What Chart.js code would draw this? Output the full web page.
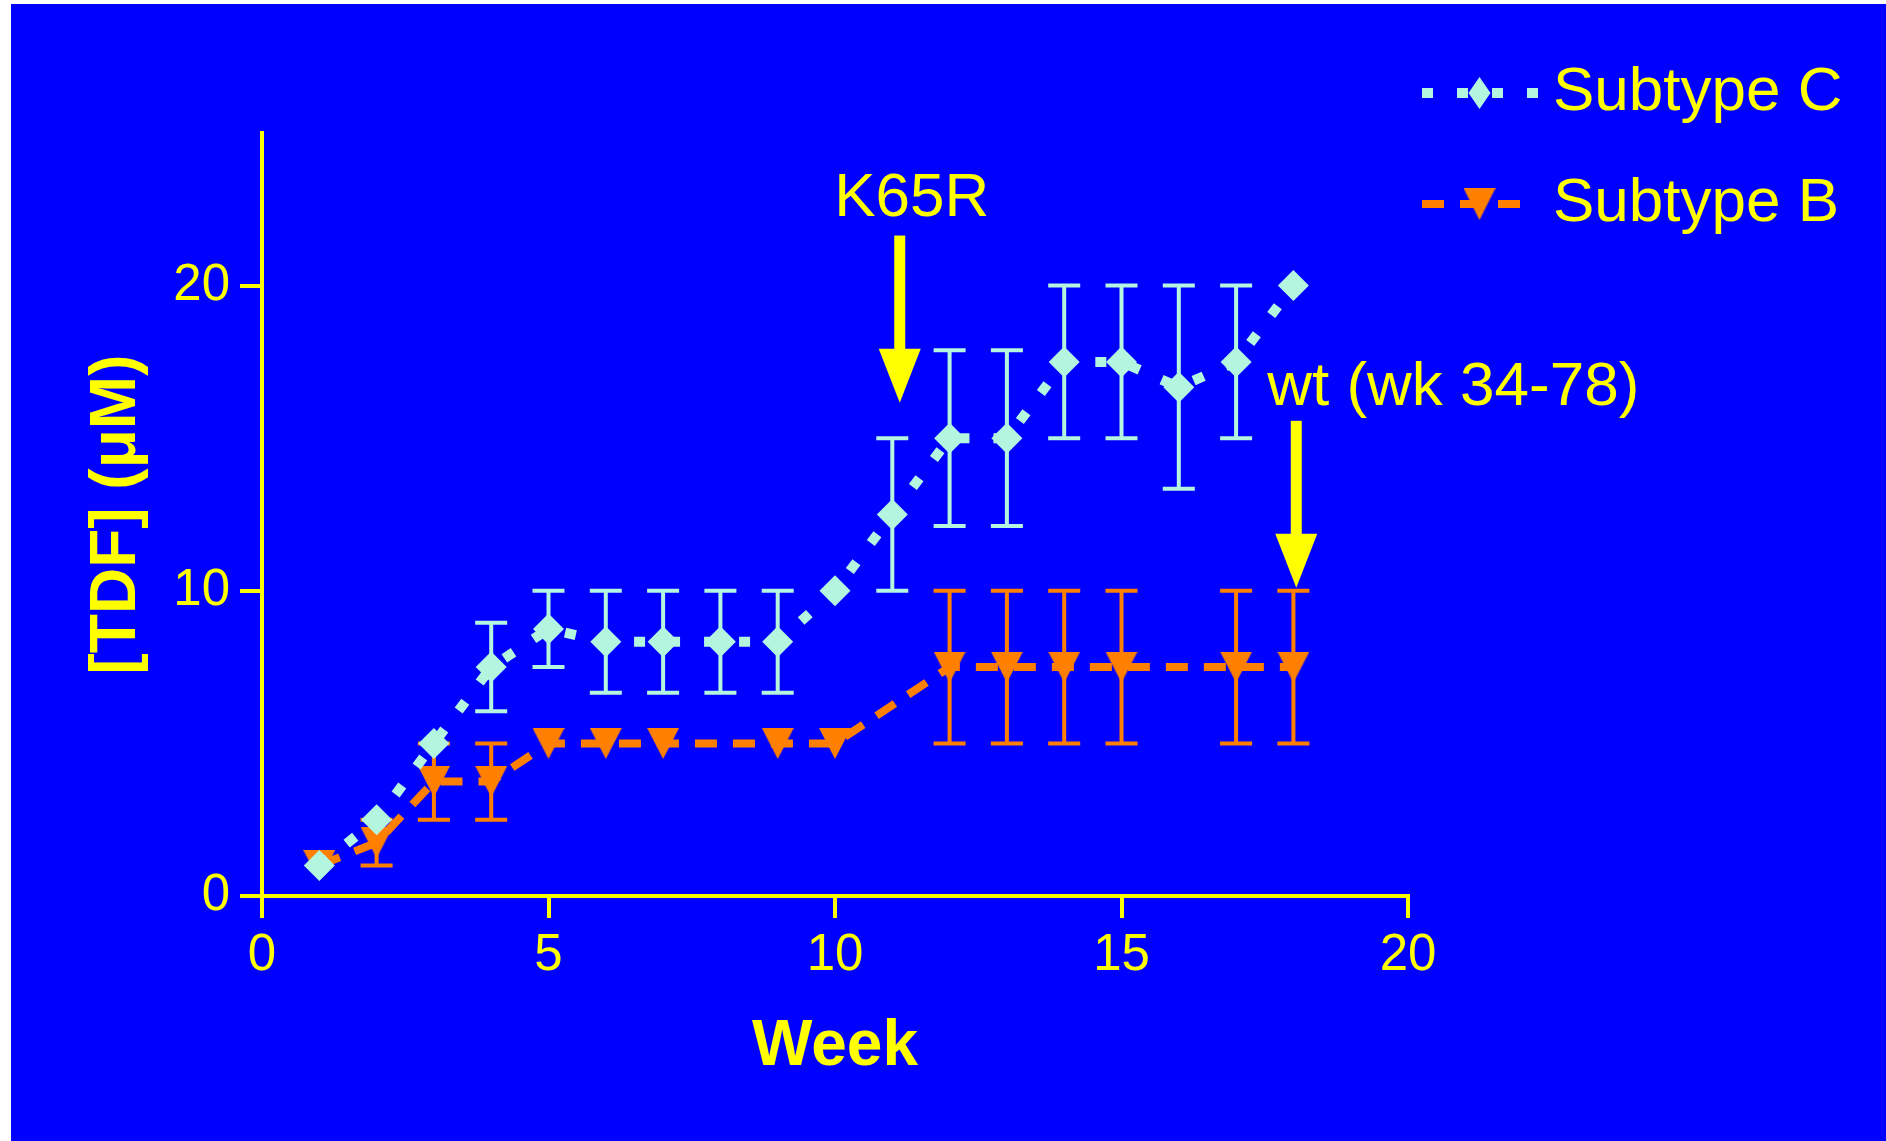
<!DOCTYPE html>
<html><head><meta charset="utf-8">
<script src="https://cdn.jsdelivr.net/npm/chart.js@4.4.1/dist/chart.umd.min.js"></script>
<style>html,body{margin:0;padding:0;background:#fff;overflow:hidden}canvas{display:block}</style>
</head><body>
<canvas id="c" width="1886" height="1141"></canvas>
<script>
// ---- data ----
const weeksC  = [1, 2, 3, 4, 5, 6, 7, 8, 9, 10, 11, 12, 13, 14, 15, 16, 17, 18];
const valuesC = [1, 2.5, 5, 7.5, 8.75, 8.33, 8.33, 8.33, 8.33, 10, 12.5, 15, 15, 17.5, 17.5, 16.67, 17.5, 20];
const errorsC = [0, 0, 0, 1.45, 1.25, 1.67, 1.67, 1.67, 1.67, 0, 2.5, 2.88, 2.88, 2.5, 2.5, 3.33, 2.5, 0];
const weeksB  = [1, 2, 3, 4, 5, 6, 7, 9, 10, 12, 13, 14, 15, 17, 18];
const valuesB = [1, 1.75, 3.75, 3.75, 5, 5, 5, 5, 5, 7.5, 7.5, 7.5, 7.5, 7.5, 7.5];
const errorsB = [0, 0.75, 1.25, 1.25, 0, 0, 0, 0, 0, 2.5, 2.5, 2.5, 2.5, 2.5, 2.5];
const xTicks = [0, 5, 10, 15, 20];
const yTicks = [0, 10, 20];
const seriesNames = ['Subtype C', 'Subtype B'];
const xTitle = 'Week';
const yTitle = '[TDF] (\u03BCM)';
const annotationLabels = ['K65R', 'wt (wk 34-78)'];
const annotationX      = [11.13, 18.05];   // arrow position (week)
const annotationTop    = [21.64, 15.57];   // arrow shaft top (µM)
const annotationTip    = [16.16, 10.1];    // arrow tip (µM)
const annotationTextX  = [11.34, 20.79];
const annotationTextY  = [22.85, 16.66];

// ---- styles ----
const BLUE = '#0000FF', YELLOW = '#FFFF00', AQUA = '#B3F5DE', ORANGE = '#FF8000';
const FONT = '"Liberation Sans", Arial, Helvetica, sans-serif';

function triangleDown(w, h, color) {
  const c = document.createElement('canvas');
  c.width = w; c.height = h;
  const g = c.getContext('2d');
  g.fillStyle = color;
  g.beginPath(); g.moveTo(0, 0); g.lineTo(w, 0); g.lineTo(w / 2, h); g.closePath(); g.fill();
  return c;
}
const triB = triangleDown(32, 31, ORANGE);

const bgPlugin = {
  id: 'bg',
  beforeDraw(chart) {
    const ctx = chart.ctx;
    ctx.save();
    ctx.fillStyle = '#FFFFFF';
    ctx.fillRect(0, 0, chart.width, chart.height);
    ctx.fillStyle = BLUE;
    ctx.fillRect(11, 4, chart.width - 11, chart.height - 4);
    ctx.restore();
  }
};

const errorBarPlugin = {
  id: 'errorBars',
  beforeDatasetDraw(chart, args) {
    const ds = chart.data.datasets[args.index];
    const errs = ds.errorBars;
    if (!errs) return;
    const xs = chart.scales.x, ys = chart.scales.y, ctx = chart.ctx;
    ctx.save();
    ctx.strokeStyle = ds.borderColor;
    ctx.lineWidth = 4;
    ctx.lineCap = 'butt';
    ds.data.forEach((p, i) => {
      const e = errs[i];
      if (!e) return;
      const px = xs.getPixelForValue(p.x);
      const top = ys.getPixelForValue(p.y + e);
      const bot = ys.getPixelForValue(p.y - e);
      ctx.beginPath();
      ctx.moveTo(px, top); ctx.lineTo(px, bot);
      ctx.moveTo(px - 16, top); ctx.lineTo(px + 16, top);
      ctx.moveTo(px - 16, bot); ctx.lineTo(px + 16, bot);
      ctx.stroke();
    });
    ctx.restore();
  }
};

const annotationPlugin = {
  id: 'annotations',
  afterDraw(chart) {
    const xs = chart.scales.x, ys = chart.scales.y, ctx = chart.ctx;
    ctx.save();
    ctx.fillStyle = YELLOW;
    annotationLabels.forEach((lab, i) => {
      const px = xs.getPixelForValue(annotationX[i]);
      const top = ys.getPixelForValue(annotationTop[i]);
      const tip = ys.getPixelForValue(annotationTip[i]);
      const headLen = 54, shaftW = 11, headW = 42;
      ctx.fillRect(px - shaftW / 2, top, shaftW, tip - headLen - top + 1);
      ctx.beginPath();
      ctx.moveTo(px - headW / 2, tip - headLen);
      ctx.lineTo(px + headW / 2, tip - headLen);
      ctx.lineTo(px, tip);
      ctx.closePath(); ctx.fill();
      ctx.font = '62px ' + FONT;
      ctx.textAlign = 'center';
      ctx.textBaseline = 'middle';
      ctx.fillText(lab, xs.getPixelForValue(annotationTextX[i]), ys.getPixelForValue(annotationTextY[i]));
    });
    ctx.restore();
  }
};

const legendPlugin = {
  id: 'customLegend',
  afterDraw(chart) {
    const ctx = chart.ctx;
    const x0 = 1422, x1 = 1537, mx = 1479.5, tx = 1553;
    const rows = [93, 204];
    ctx.save();
    // Subtype C
    ctx.strokeStyle = AQUA; ctx.lineWidth = 10; ctx.setLineDash([11, 24]); ctx.lineCap = 'butt';
    ctx.beginPath(); ctx.moveTo(x0, rows[0]); ctx.lineTo(x1 + 1, rows[0]); ctx.stroke();
    ctx.setLineDash([]);
    ctx.fillStyle = AQUA;
    ctx.beginPath();
    ctx.moveTo(mx, rows[0] - 16); ctx.lineTo(mx + 11, rows[0]); ctx.lineTo(mx, rows[0] + 16); ctx.lineTo(mx - 11, rows[0]);
    ctx.closePath(); ctx.fill();
    // Subtype B
    ctx.strokeStyle = ORANGE; ctx.lineWidth = 8; ctx.setLineDash([22, 16]);
    ctx.beginPath(); ctx.moveTo(x0, rows[1]); ctx.lineTo(1521, rows[1]); ctx.stroke();
    ctx.setLineDash([]);
    ctx.drawImage(triB, mx - 16, rows[1] - 16, 32, 32);
    // text
    ctx.fillStyle = YELLOW;
    ctx.font = '62px ' + FONT;
    ctx.textAlign = 'left'; ctx.textBaseline = 'middle';
    ctx.fillText(seriesNames[0], tx, rows[0]);
    ctx.fillText(seriesNames[1], tx, rows[1]);
    ctx.restore();
  }
};

const axisCommon = {
  type: 'linear',
  border: { display: true, color: YELLOW, width: 4 },
  grid: { display: true, drawOnChartArea: false, drawTicks: true, tickLength: 22, color: YELLOW, lineWidth: 4 },
};

new Chart(document.getElementById('c'), {
  type: 'line',
  data: {
    datasets: [
      {
        label: seriesNames[0],
        data: weeksC.map((w, i) => ({ x: w, y: valuesC[i] })),
        errorBars: errorsC,
        borderColor: AQUA, backgroundColor: AQUA,
        borderWidth: 10, borderDash: [11, 24], borderCapStyle: 'butt',
        pointStyle: 'rectRot', pointRadius: 15.5, pointBorderWidth: 0,
        pointBackgroundColor: AQUA, tension: 0
      },
      {
        label: seriesNames[1],
        data: weeksB.map((w, i) => ({ x: w, y: valuesB[i] })),
        errorBars: errorsB,
        borderColor: ORANGE, backgroundColor: ORANGE,
        borderWidth: 8, borderDash: [22, 16], borderCapStyle: 'butt',
        pointStyle: triB, pointRadius: 16, pointBorderWidth: 0,
        pointBackgroundColor: ORANGE, tension: 0
      }
    ]
  },
  options: {
    responsive: false,
    animation: false,
    devicePixelRatio: 1,
    layout: { padding: { top: 133, right: 478, left: 0, bottom: 0 } },
    plugins: { legend: { display: false }, tooltip: { enabled: false } },
    scales: {
      x: Object.assign({}, axisCommon, {
        min: 0, max: 20,
        afterBuildTicks: s => { s.ticks = xTicks.map(v => ({ value: v })); },
        afterFit: s => { s.height = 245; },
        ticks: { color: YELLOW, font: { family: FONT, size: 51 }, padding: 7, maxRotation: 0, autoSkip: false },
        title: { display: true, text: xTitle, color: YELLOW, font: { family: FONT, size: 64, weight: 'bold' }, padding: { top: 0, bottom: 55 } }
      }),
      y: Object.assign({}, axisCommon, {
        min: 0, max: 25,
        afterBuildTicks: s => { s.ticks = yTicks.map(v => ({ value: v })); },
        afterFit: s => { s.width = 262; },
        ticks: { color: YELLOW, font: { family: FONT, size: 51 }, padding: 10, autoSkip: false },
        title: { display: true, text: yTitle, color: YELLOW, font: { family: FONT, size: 64, weight: 'bold' }, padding: { top: 79, bottom: 0 } }
      })
    }
  },
  plugins: [bgPlugin, errorBarPlugin, annotationPlugin, legendPlugin]
});
</script>
</body></html>
